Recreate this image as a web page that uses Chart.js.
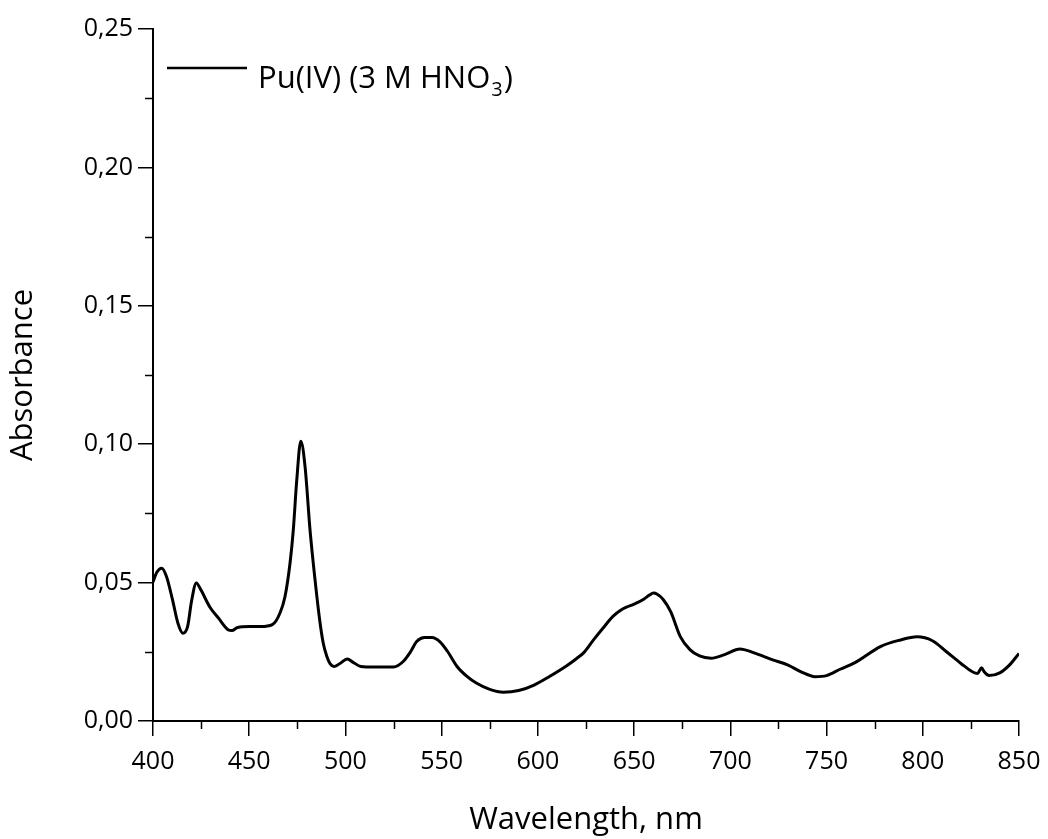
<!DOCTYPE html>
<html>
<head>
<meta charset="utf-8">
<script src="https://cdn.jsdelivr.net/npm/chart.js@4"></script>
<style>
  body { margin: 0; background: #fff; }
  #wrap { width: 1048px; height: 839px; }
</style>
</head>
<body>
<div id="wrap"><canvas id="spectrum" width="1048" height="839"></canvas></div>
<script>
// Pu(IV) in 3 M HNO3, absorbance vs wavelength
const wavelengths = [
  400, 402, 404.5, 407, 410, 413, 415.5, 418, 420, 422.5, 425, 429.5, 434, 439, 441, 444,
  450, 456, 462, 466, 468.6, 471.2, 472.9, 474.7, 476.8, 479, 481.6, 484.2, 486.8, 488.5, 490.3, 492,
  494, 497, 501, 504, 508, 515, 525, 530, 534, 537, 541, 545, 549, 553, 558, 563, 568,
  575, 582, 590, 598, 606, 615, 620, 624, 629, 634, 639, 643, 646, 650, 655, 658, 660, 662, 665, 669, 674,
  679, 684, 690, 697, 705, 712, 722, 730, 737, 744, 750, 757, 765, 778, 788,
  797, 805, 812, 820, 826, 828.5, 830.5, 832, 834.5, 840, 845, 850
];
const absorbance = [
  0.0502, 0.0537, 0.0552, 0.0522, 0.0442, 0.0352, 0.0317, 0.0342, 0.0432, 0.0499, 0.0472, 0.0412, 0.0372, 0.0330, 0.0327, 0.0338,
  0.0341, 0.0341, 0.0348, 0.0390, 0.0450, 0.0570, 0.0690, 0.0870, 0.1011, 0.0920, 0.0690, 0.0510, 0.0355, 0.0280, 0.0234, 0.0207,
  0.0197, 0.0207, 0.0224, 0.0212, 0.0197, 0.0195, 0.0195, 0.0215, 0.0252, 0.0287, 0.0302, 0.0302, 0.0287, 0.0252, 0.0197, 0.0162, 0.0137,
  0.0114, 0.0104, 0.0110, 0.0130, 0.0161, 0.0200, 0.0225, 0.0248, 0.0294, 0.0337, 0.0378, 0.0400, 0.0411, 0.0422, 0.0440, 0.0455, 0.0462, 0.0458, 0.0440, 0.0395, 0.0305,
  0.0258, 0.0235, 0.0227, 0.0240, 0.0260, 0.0247, 0.0221, 0.0202, 0.0177, 0.0160, 0.0164, 0.0187, 0.0212, 0.0269, 0.0292,
  0.0304, 0.0290, 0.0252, 0.0207, 0.0177, 0.0172, 0.0192, 0.0177, 0.0164, 0.0174, 0.0202, 0.0244
];
const seriesLabel = ['Pu(IV) (3 M HNO', '3', ')'];
const xTitle = 'Wavelength, nm';
const yTitle = 'Absorbance';

const points = wavelengths.map((w, i) => ({ x: w, y: absorbance[i] }));

const FONT = '"Open Sans", "DejaVu Sans", sans-serif';

// minor ticks halfway between the major ones
const minorTicks = {
  id: 'minorTicks',
  afterDraw(chart) {
    const ctx = chart.ctx;
    ctx.save();
    ctx.strokeStyle = '#000';
    ctx.lineWidth = 1.5;
    const xs = chart.scales.x;
    for (let i = 0; i < xs.ticks.length - 1; i++) {
      const v = (xs.ticks[i].value + xs.ticks[i + 1].value) / 2;
      const px = Math.round(xs.getPixelForValue(v)) + 0.5;
      ctx.beginPath();
      ctx.moveTo(px, xs.top);
      ctx.lineTo(px, xs.top + 8);
      ctx.stroke();
    }
    const ys = chart.scales.y;
    for (let i = 0; i < ys.ticks.length - 1; i++) {
      const v = (ys.ticks[i].value + ys.ticks[i + 1].value) / 2;
      const py = Math.round(ys.getPixelForValue(v)) + 0.5;
      ctx.beginPath();
      ctx.moveTo(ys.right, py);
      ctx.lineTo(ys.right - 8, py);
      ctx.stroke();
    }
    ctx.restore();
  }
};

// legend in the top-left corner of the plot, with the subscript 3
const cornerLegend = {
  id: 'cornerLegend',
  afterDraw(chart) {
    const ctx = chart.ctx;
    const ds = chart.data.datasets[0];
    ctx.save();
    ctx.strokeStyle = ds.borderColor;
    ctx.lineWidth = 2.5;
    ctx.beginPath();
    ctx.moveTo(167, 68);
    ctx.lineTo(247, 68);
    ctx.stroke();
    ctx.fillStyle = '#000';
    ctx.textBaseline = 'alphabetic';
    let x = 258;
    const base = 88;
    ctx.font = '31px ' + FONT;
    ctx.fillText(seriesLabel[0], x, base);
    x += ctx.measureText(seriesLabel[0]).width + 1;
    ctx.font = '20px ' + FONT;
    ctx.fillText(seriesLabel[1], x, base + 8);
    x += ctx.measureText(seriesLabel[1]).width + 1;
    ctx.font = '31px ' + FONT;
    ctx.fillText(seriesLabel[2], x, base);
    ctx.restore();
  }
};

const ctx = document.getElementById('spectrum').getContext('2d');

const chart = new Chart(ctx, {
  type: 'line',
  data: {
    datasets: [{
      label: seriesLabel.join(''),
      data: points,
      borderColor: '#000',
      borderWidth: 3,
      pointRadius: 0,
      fill: false,
      cubicInterpolationMode: 'monotone'
    }]
  },
  options: {
    responsive: false,
    animation: false,
    layout: { padding: { top: 29, right: 29, left: 0, bottom: 0 } },
    plugins: {
      legend: { display: false },
      tooltip: { enabled: false }
    },
    scales: {
      x: {
        type: 'linear',
        min: 400,
        max: 850,
        afterFit(scale) { scale.height = 118; },
        ticks: {
          stepSize: 50,
          color: '#000',
          padding: 6,
          font: { family: FONT, size: 25, lineHeight: 1.6 },
          maxRotation: 0
        },
        grid: { drawOnChartArea: false, tickLength: 15, color: '#000', lineWidth: 1.5 },
        border: { color: '#000', width: 2 },
        title: {
          display: true,
          text: xTitle,
          color: '#000',
          font: { family: FONT, size: 31 },
          padding: { top: 10, bottom: 0 }
        }
      },
      y: {
        min: 0,
        max: 0.25,
        afterFit(scale) { scale.width = 153; },
        ticks: {
          stepSize: 0.05,
          color: '#000',
          padding: 5,
          font: { family: FONT, size: 25 },
          callback: (v) => v.toFixed(2).replace('.', ',')
        },
        grid: { drawOnChartArea: false, tickLength: 15, color: '#000', lineWidth: 1.5 },
        border: { color: '#000', width: 2 },
        title: {
          display: true,
          text: yTitle,
          color: '#000',
          font: { family: FONT, size: 31 },
          padding: { top: 5, bottom: 5 }
        }
      }
    }
  },
  plugins: [minorTicks, cornerLegend]
});
</script>
</body>
</html>
